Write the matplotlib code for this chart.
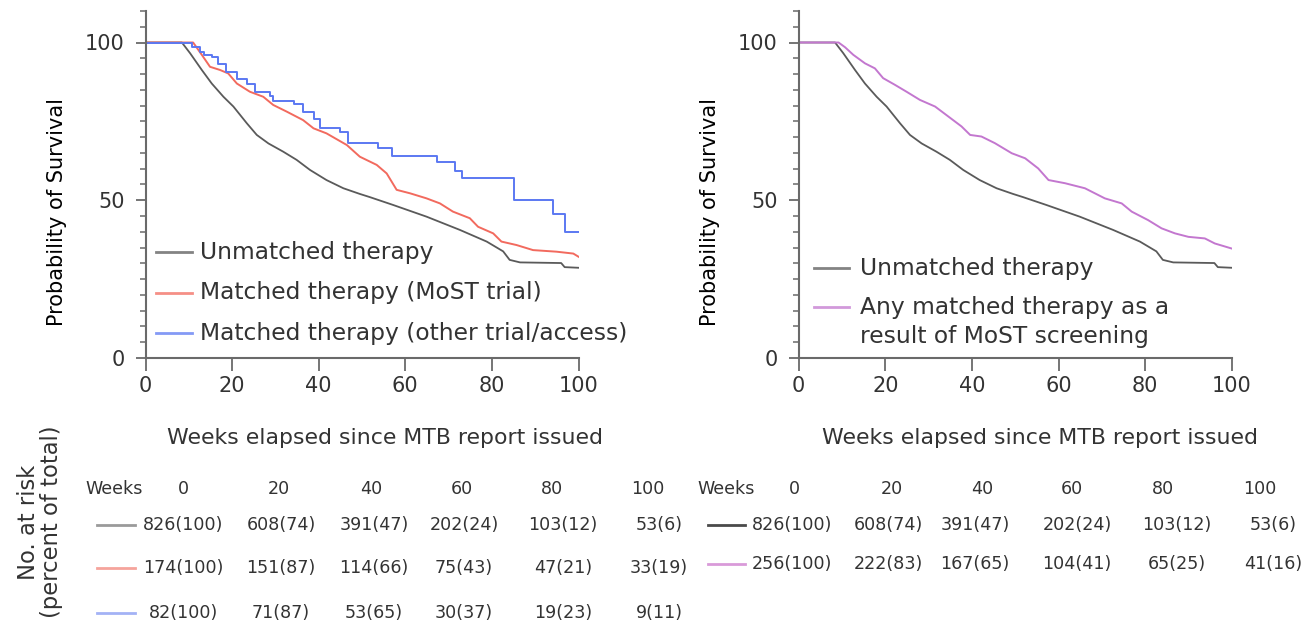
import numpy as np
import matplotlib
import matplotlib.pyplot as plt
from matplotlib.lines import Line2D
from matplotlib.ticker import MultipleLocator

fig_w_px = 1307
fig_h_px = 625
font_size = 15
legend_font_size = 16.8
label_font_size = 15.8
table_font_size = 12.6

matplotlib.rc("font", family='DejaVu Sans')
plt.rcParams['text.color'] = '#333333'

# Kaplan-Meier curves (weeks, % surviving)
gray_wk = [0, 8.4, 10.3, 13, 15.3, 18, 20.3, 23.4, 25.7, 28.4, 31.8, 34.9, 38, 41.8, 45.7,
           49.5, 51.8, 57.2, 64.9, 72.6, 78.8, 82.6, 84.1, 86.5, 96.0, 96.8, 100]
gray_sv = [100, 100, 96.6, 91.3, 87, 82.8, 79.7, 74.4, 70.7, 68, 65.4, 62.8, 59.6, 56.4, 53.8,
           52.0, 51.0, 48.5, 44.8, 40.6, 36.9, 33.8, 31.1, 30.3, 30.1, 28.8, 28.6]

red_wk = [0, 11, 13, 14.9, 17.2, 19.1, 21.1, 24.1, 27.2, 29.5, 32.6, 36.4, 38.8, 41.8, 46.5,
          49.5, 53.4, 55.7, 58, 61.1, 64.9, 68, 71, 74.9, 76.8, 80.3, 82.2, 85.7, 89.5, 94.9,
          98.8, 100]
red_sv = [100, 100, 96.1, 92.3, 91.3, 90.2, 87, 84.4, 82.8, 80.2, 78.1, 75.4, 72.8, 71.2, 67.5,
          63.8, 61.2, 58.5, 53.3, 52.2, 50.6, 49, 46.4, 44.3, 41.6, 39.5, 36.9, 35.8, 34.2, 33.7,
          33.1, 32.1]

blue_wk = [0, 10.7, 12.6, 13.4, 15.3, 16.8, 18.7, 21.1, 23.4, 25.3, 28.7, 29.5, 34.2, 36.4,
           38.8, 40.3, 44.9, 46.8, 53.8, 56.9, 67.3, 71.4, 73, 85.1, 94, 96.8, 100]
blue_sv = [100, 98.6, 97, 95.9, 95.4, 93.3, 90.6, 88.5, 86.9, 84.3, 83.2, 81.6, 80.6, 78,
           75.9, 72.8, 71.7, 68, 66.5, 63.9, 62, 59.2, 57.1, 50, 45.5, 40, 40]

purple_wk = [0, 9.2, 10.7, 12.6, 15.3, 17.6, 19.5, 22.2, 24.9, 28, 31.5, 34.6, 37.6, 39.6,
             42.2, 45.3, 49.2, 52.3, 55.3, 57.7, 61.5, 66.1, 68.4, 70.7, 74.6, 76.9, 80.7,
             83.8, 86.9, 90, 93.8, 96.1, 100]
purple_sv = [100, 100, 98.5, 96.1, 93.4, 91.8, 88.7, 86.6, 84.4, 81.8, 79.7, 76.5, 73.4, 70.7,
             70.2, 68.1, 64.9, 63.3, 60.1, 56.4, 55.4, 53.8, 52.2, 50.6, 49, 46.4, 43.7,
             41.1, 39.5, 38.4, 37.9, 36.3, 34.7]

# number at risk tables
risk_weeks = [0, 20, 40, 60, 80, 100]
n_unmatched = [826, 608, 391, 202, 103, 53]
p_unmatched = [100, 74, 47, 24, 12, 6]
n_most = [174, 151, 114, 75, 47, 33]
p_most = [100, 87, 66, 43, 21, 19]
n_other = [82, 71, 53, 30, 19, 9]
p_other = [100, 87, 65, 37, 23, 11]
n_any = [256, 222, 167, 104, 65, 41]
p_any = [100, 83, 65, 41, 25, 16]

c_gray = '#5a5a5a'
c_red = '#f26a5e'
c_blue = '#5b78f2'
c_purple = '#c377cf'


def fx(x):
    return x / fig_w_px


def fy(y):
    return 1 - y / fig_h_px


fig = plt.figure(figsize=(fig_w_px / 100, fig_h_px / 100), dpi=100)

ax01 = fig.add_axes([fx(145.5), fy(358), 433 / fig_w_px, 110 * 3.155 / fig_h_px])
ax02 = fig.add_axes([fx(798.7), fy(358), 433 / fig_w_px, 110 * 3.155 / fig_h_px])

ax01.plot(gray_wk, gray_sv, color=c_gray, linewidth=1.3)
ax01.plot(red_wk, red_sv, color=c_red, linewidth=1.4)
ax01.plot(blue_wk, blue_sv, color=c_blue, linewidth=1.4, drawstyle='steps-post')

ax02.plot(gray_wk, gray_sv, color=c_gray, linewidth=1.3)
ax02.plot(purple_wk, purple_sv, color=c_purple, linewidth=1.4)

for ax in (ax01, ax02):
    ax.set_xlim(0, 100)
    ax.set_ylim(0, 110)
    ax.set_xticks([0, 20, 40, 60, 80, 100])
    ax.set_yticks([0, 50, 100])
    ax.yaxis.set_minor_locator(MultipleLocator(5))
    ax.spines['right'].set_visible(False)
    ax.spines['top'].set_visible(False)
    ax.spines['bottom'].set_linewidth(1.5)
    ax.spines['left'].set_linewidth(1.5)
    ax.spines['bottom'].set_color('#6a6a6a')
    ax.spines['left'].set_color('#6a6a6a')
    ax.tick_params(axis='x', direction='out', length=9, width=1.3, color='#6a6a6a',
                   labelsize=font_size, labelcolor='#333333', pad=4)
    ax.tick_params(axis='y', which='major', direction='out', length=7, width=1.3,
                   color='#6a6a6a', labelsize=font_size, labelcolor='#333333', pad=8)
    ax.tick_params(axis='y', which='minor', direction='out', length=4, width=1.1,
                   color='#6a6a6a')
    ax.set_ylabel('Probability of Survival', fontsize=font_size)
    ax.yaxis.set_label_coords(-0.182, 0.42)

fig.text(fx(385), fy(438), 'Weeks elapsed since MTB report issued', fontsize=label_font_size,
         ha='center', va='center')
fig.text(fx(1040), fy(438), 'Weeks elapsed since MTB report issued', fontsize=label_font_size,
         ha='center', va='center')

# legends (drawn by hand so the two-line label keeps its key on the first line)
left_legend = [(c_gray, 'Unmatched therapy', 252),
               (c_red, 'Matched therapy (MoST trial)', 293),
               (c_blue, 'Matched therapy (other trial/access)', 333)]
for col, lab, yy in left_legend:
    fig.add_artist(Line2D([fx(156), fx(192)], [fy(yy), fy(yy)], color=col, linewidth=2, alpha=0.75))
    fig.text(fx(200), fy(yy), lab, fontsize=legend_font_size, ha='left', va='center')

right_legend = [(c_gray, 'Unmatched therapy', 268),
                (c_purple, 'Any matched therapy as a', 307)]
for col, lab, yy in right_legend:
    fig.add_artist(Line2D([fx(814), fx(849)], [fy(yy), fy(yy)], color=col, linewidth=2, alpha=0.75))
    fig.text(fx(860), fy(yy), lab, fontsize=legend_font_size, ha='left', va='center')
fig.text(fx(860), fy(337), 'result of MoST screening', fontsize=legend_font_size, ha='left', va='center')

# number at risk tables
fig.text(fx(40), fy(522), 'No. at risk\n(percent of total)', fontsize=16.3, rotation=90,
         ha='center', va='center', linespacing=1.0)

left_hdr_x = [183, 279, 371, 462, 552, 648]
left_col_x = [183, 281, 374, 464, 563, 659]
right_hdr_x = [794, 892, 982, 1072, 1163, 1260]
right_col_x = [792, 888, 975, 1077, 1177, 1273]

fig.text(fx(85), fy(489), 'Weeks', fontsize=table_font_size, ha='left', va='center')
fig.text(fx(697), fy(489), 'Weeks', fontsize=table_font_size, ha='left', va='center')
for i, wk in enumerate(risk_weeks):
    fig.text(fx(left_hdr_x[i]), fy(489), str(wk), fontsize=table_font_size, ha='center', va='center')
    fig.text(fx(right_hdr_x[i]), fy(489), str(wk), fontsize=table_font_size, ha='center', va='center')

left_rows = [(n_unmatched, p_unmatched, '#9a9a9a', 525),
             (n_most, p_most, '#f5a49c', 568),
             (n_other, p_other, '#a3b2f5', 613)]
for ns, ps, col, yy in left_rows:
    fig.add_artist(Line2D([fx(97), fx(135)], [fy(yy), fy(yy)], color=col, linewidth=2))
    for i in range(len(ns)):
        fig.text(fx(left_col_x[i]), fy(yy), '%d(%d)' % (ns[i], ps[i]), fontsize=table_font_size,
                 ha='center', va='center')

right_rows = [(n_unmatched, p_unmatched, '#4a4a4a', 525),
              (n_any, p_any, '#d99ad9', 564)]
for ns, ps, col, yy in right_rows:
    fig.add_artist(Line2D([fx(708), fx(745)], [fy(yy), fy(yy)], color=col, linewidth=2))
    for i in range(len(ns)):
        fig.text(fx(right_col_x[i]), fy(yy), '%d(%d)' % (ns[i], ps[i]), fontsize=table_font_size,
                 ha='center', va='center')

plt.savefig('out.png', dpi=100)
plt.close()
